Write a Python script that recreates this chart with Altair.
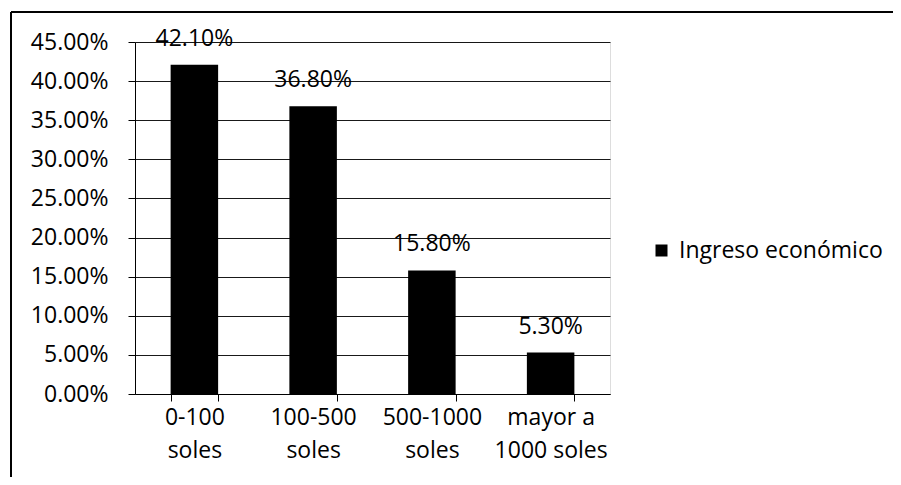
import altair as alt
import pandas as pd

categories = ["0-100\nsoles", "100-500\nsoles", "500-1000\nsoles", "mayor a\n1000 soles"]
values = [0.421, 0.368, 0.158, 0.053]
value_labels = ["42.10%", "36.80%", "15.80%", "5.30%"]
series_name = "Ingreso económico"
y_ticks = [0.0, 0.05, 0.10, 0.15, 0.20, 0.25, 0.30, 0.35, 0.40, 0.45]

df = pd.DataFrame({
    "cat": categories,
    "val": values,
    "lab": value_labels,
    "series": [series_name] * len(categories),
})

FONT = "Open Sans"
FS = 23

x_enc = alt.X(
    "cat:N",
    sort=categories,
    scale=alt.Scale(paddingInner=0.6, paddingOuter=0.3),
    axis=alt.Axis(
        title=None,
        labelAngle=0,
        labelExpr="split(datum.label, '\\n')",
        labelFont=FONT,
        labelFontSize=FS,
        labelLineHeight=33,
        labelColor="black",
        labelPadding=5,
        labelOverlap=False,
        labelLimit=300,
        domainColor="black",
        tickColor="black",
        tickSize=7,
        tickBand="extent",
        grid=False,
    ),
)

y_enc = alt.Y(
    "val:Q",
    scale=alt.Scale(domain=[0, 0.45], nice=False, zero=True),
    axis=alt.Axis(
        title=None,
        values=y_ticks,
        format=".2%",
        labelFont=FONT,
        labelFontSize=FS,
        labelColor="black",
        labelPadding=20,
        labelOverlap=False,
        labelFlush=False,
        domainColor="black",
        tickColor="black",
        tickSize=7,
        grid=True,
        gridColor="black",
        gridWidth=1,
        gridOpacity=0.9,
    ),
)

bars = alt.Chart(df).mark_bar(color="black").encode(
    x=x_enc,
    y=y_enc,
    color=alt.Color(
        "series:N",
        scale=alt.Scale(range=["#000000"]),
        legend=alt.Legend(
            title=None,
            orient="none",
            legendX=515,
            legendY=197,
            symbolType="square",
            symbolSize=144,
            symbolStrokeWidth=0,
            symbolFillColor="black",
            labelFont=FONT,
            labelFontSize=FS,
            labelColor="black",
            labelOffset=6,
            labelLimit=400,
        ),
    ),
)

text = alt.Chart(df).mark_text(
    dy=-19, baseline="alphabetic", font=FONT, fontSize=FS, color="black"
).encode(
    x=x_enc,
    y=y_enc,
    text="lab:N",
)

frame_left = alt.Chart(df).mark_rule(color="black", strokeWidth=1.5).encode(
    x=alt.value(-124), y=alt.value(-30), y2=alt.value(480)
)
frame_top = alt.Chart(df).mark_rule(color="black", strokeWidth=1.5).encode(
    x=alt.value(-124), x2=alt.value(800), y=alt.value(-30)
)

chart = alt.layer(bars, text, frame_left, frame_top).properties(
    width=475,
    height=352,
    padding={"left": 127, "top": 34, "right": 283, "bottom": 83},
    autosize=alt.AutoSizeParams(type="none"),
).configure_view(stroke=None).configure(background="white")

chart.save("out.html", embed_options={"renderer": "svg", "actions": False})
